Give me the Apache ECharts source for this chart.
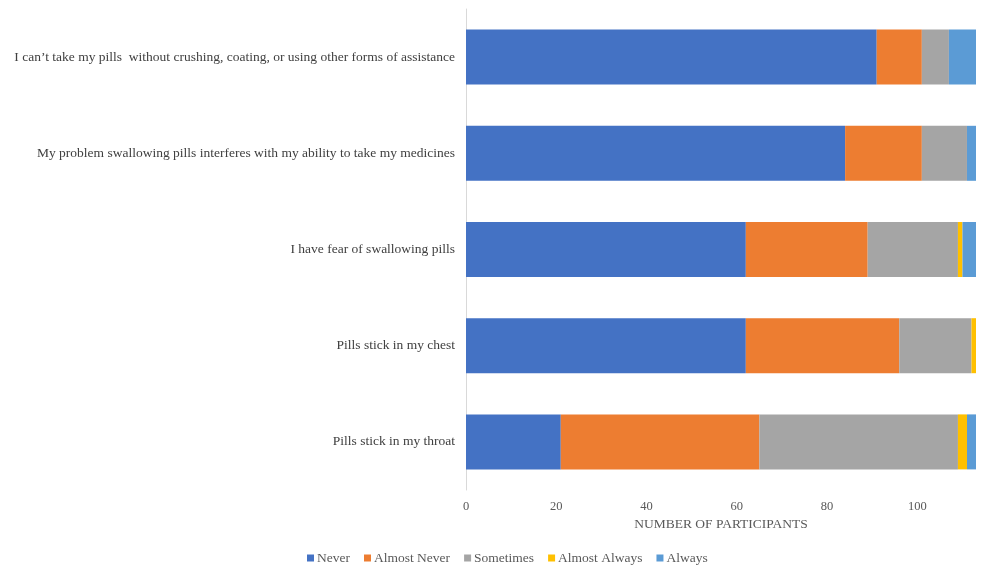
<!DOCTYPE html>
<html>
<head>
<meta charset="utf-8">
<script src="https://cdn.jsdelivr.net/npm/echarts@6/dist/echarts.min.js"></script>
<style>
  html, body { margin: 0; padding: 0; background: #fff; }
  #chart { width: 984px; height: 567px; }
</style>
</head>
<body>
<div id="chart"></div>
<script>
// Statements, listed top to bottom
const statements = [
  "I can\u2019t take my pills  without crushing, coating, or using other forms of assistance",
  "My problem swallowing pills interferes with my ability to take my medicines",
  "I have fear of swallowing pills",
  "Pills stick in my chest",
  "Pills stick in my throat"
];

// Response counts per statement (same order as above)
const never        = [91, 84, 62, 62, 21];
const almostNever  = [10, 17, 27, 34, 44];
const sometimes    = [6, 10, 20, 16, 44];
const almostAlways = [0, 0, 1, 1, 2];
const always       = [6, 2, 3, 0, 2];

const seriesNames = ["Never", "Almost Never", "Sometimes", "Almost Always", "Always"];
const seriesData = [never, almostNever, sometimes, almostAlways, always];
const colors = ["#4472C4", "#ED7D31", "#A5A5A5", "#FFC000", "#5B9BD5"];

const axisFont = "'Liberation Serif', 'Times New Roman', serif";

const chart = echarts.init(document.getElementById('chart'), null, { renderer: 'canvas' });

chart.setOption({
  animation: false,
  color: colors,
  textStyle: { fontFamily: axisFont },
  grid: { left: 466, right: 8, top: 9, bottom: 77, containLabel: false },
  xAxis: {
    type: 'value',
    min: 0,
    max: 113,
    interval: 20,
    name: 'NUMBER OF PARTICIPANTS',
    nameLocation: 'middle',
    nameGap: 27,
    nameTextStyle: { color: '#595959', fontSize: 13.5, fontFamily: axisFont },
    axisLine: { show: false },
    axisTick: { show: false },
    splitLine: { show: false },
    axisLabel: {
      color: '#595959',
      fontSize: 12.5,
      fontFamily: axisFont,
      margin: 10,
      showMaxLabel: false,
      formatter: v => (v % 20 === 0 ? String(v) : '')
    }
  },
  yAxis: {
    type: 'category',
    data: statements,
    inverse: true,
    axisLine: { show: true, lineStyle: { color: '#D9D9D9', width: 1 } },
    axisTick: { show: false },
    axisLabel: {
      color: '#404040',
      fontSize: 13.5,
      fontFamily: axisFont,
      margin: 11
    }
  },
  legend: {
    data: seriesNames,
    top: 546,
    left: 302,
    itemWidth: 7,
    itemHeight: 7,
    itemGap: 14,
    icon: 'rect',
    textStyle: { color: '#595959', fontSize: 13.5, fontFamily: axisFont, padding: [0, 0, 0, -2] }
  },
  series: seriesNames.map((name, i) => ({
    name: name,
    type: 'bar',
    stack: 'total',
    barWidth: 55,
    data: seriesData[i],
    itemStyle: { color: colors[i] }
  }))
});
</script>
</body>
</html>
